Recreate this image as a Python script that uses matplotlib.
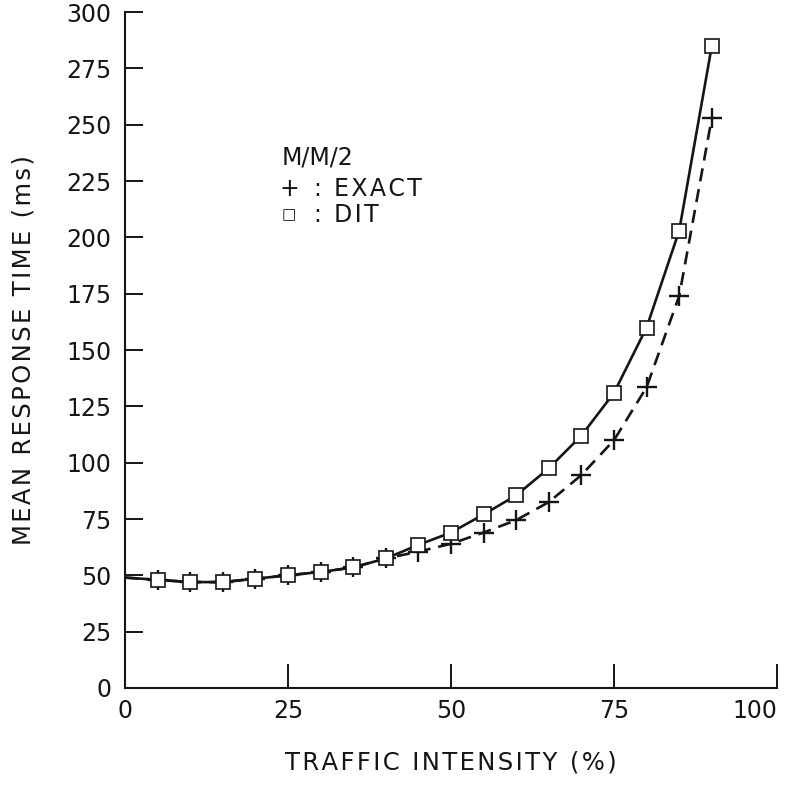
import matplotlib
matplotlib.use("Agg")
import matplotlib.pyplot as plt

# traffic intensity (%) and mean response time (ms) for the M/M/2 queue
intensity = [0, 5, 10, 15, 20, 25, 30, 35, 40, 45, 50, 55, 60, 65, 70, 75, 80, 85, 90]
exact_ms = [49, 48, 47, 47, 48.5, 50, 51.5, 53.5, 57.5, 60.5, 64, 69, 74.5, 82.5, 94.5, 110, 133.5, 174, 253]
dit_ms = [49, 48, 47, 47, 48.5, 50, 51.5, 53.5, 57.5, 63.5, 69, 77, 85.5, 97.5, 112, 131, 160, 203, 285]

xticks = [0, 25, 50, 75, 100]
yticks = list(range(0, 301, 25))


def spaced(s):
    # open up the letter spacing with hair spaces
    return '\u200a'.join(s)


plt.rcParams['font.family'] = ['DejaVu Sans']

fig = plt.figure(figsize=(7.89, 7.85), dpi=100)
ax = fig.add_axes([0.1584, 0.1236, 0.8264, 0.861])

ink = '#151515'
ax.plot(intensity, dit_ms, color=ink, lw=1.9, marker='s', ms=10,
        mfc='white', mec=ink, mew=1.2, markevery=range(1, len(intensity)),
        zorder=3)
ax.plot(intensity, exact_ms, color=ink, lw=1.9, ls=(0, (5, 3)),
        marker='+', ms=14, mew=1.7, mec=ink,
        markevery=range(1, len(intensity)), zorder=2)

ax.set_xlim(0, 100)
ax.set_ylim(0, 300)
ax.set_xticks(xticks)
ax.set_yticks(yticks)

for side in ('top', 'right'):
    ax.spines[side].set_visible(False)
for side in ('left', 'bottom'):
    ax.spines[side].set_linewidth(1.5)
    ax.spines[side].set_color(ink)

ax.tick_params(axis='y', direction='in', length=13, width=1.4, pad=10,
               labelsize=17, colors=ink)
ax.tick_params(axis='x', direction='in', length=17, width=1.4, pad=8,
               labelsize=17, colors=ink)
# last x label sits flush with the end of the axis
ax.get_xticklabels()[-1].set_horizontalalignment('right')
ax.get_xticklabels()[-1].set_x(103)

ax.set_xlabel(spaced('TRAFFIC INTENSITY (%)'), fontsize=17.5, labelpad=20, color=ink)
ax.set_ylabel(spaced('MEAN RESPONSE TIME (ms)'), fontsize=17.5, labelpad=22, color=ink)

# key written inside the plot area
kw = dict(transform=ax.transAxes, fontsize=17, color=ink, va='center')
ax.text(0.241, 0.785, 'M/M/2', **kw)
ax.text(0.2515, 0.738, '+', ha='center', **kw)
ax.text(0.295, 0.738, ':', ha='center', **kw)
ax.text(0.321, 0.738, spaced('EXACT'), **kw)
ax.text(0.2515, 0.700, '□', ha='center', fontsize=11, transform=ax.transAxes,
        color=ink, va='center')
ax.text(0.295, 0.700, ':', ha='center', **kw)
ax.text(0.321, 0.700, spaced('DIT'), **kw)

fig.savefig('out.png', dpi=100)
